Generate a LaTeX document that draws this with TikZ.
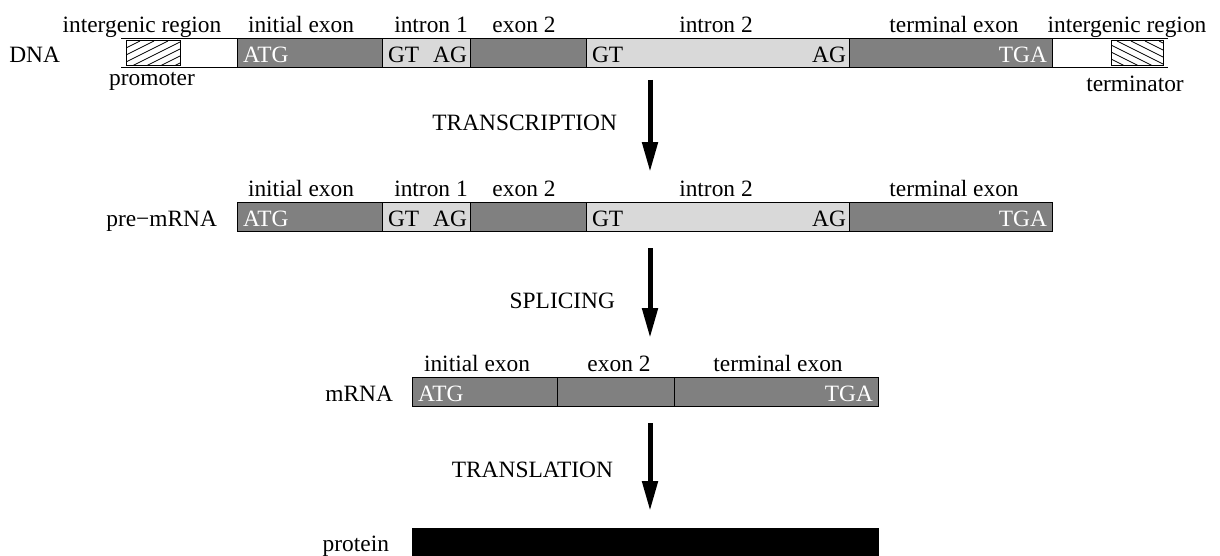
\documentclass[tikz,border=0pt]{standalone}
\usepackage{fontspec}
\setmainfont{Liberation Serif}
\usetikzlibrary{arrows.meta}
\definecolor{exdark}{HTML}{808080}
\definecolor{inlight}{HTML}{D9D9D9}
\begin{document}
\begin{tikzpicture}[x=0.5pt,y=-0.5pt,
  every node/.style={font=\fontsize{11.7pt}{14pt}\selectfont, inner sep=0pt, outer sep=0pt},
  seg/.style={draw, line width=0.5pt, minimum height=14.5pt, anchor=west},
  ex/.style={seg, fill=exdark},
  intr/.style={seg, fill=inlight},
  hatchbox/.style={draw, line width=0.5pt, minimum height=12.5pt, anchor=west},
  lab/.style={anchor=base},
  side/.style={anchor=base east},
  wtxt/.style={text=white},
  bigarrow/.style={line width=2.5pt, -{Triangle[length=15pt,width=7.5pt]}},
  thin/.style={line width=0.5pt},
  hatch/.style={line width=0.4pt}
]
\useasboundingbox (0,0) rectangle (1220,556);

% ---------------- DNA ----------------
\node[side] (lDNA) at (60,63) {DNA};
\node[ex, minimum width=72.5pt] (dA) at (237,53.5) {};
\node[intr, minimum width=44pt] (dB) at (382,53.5) {};
\node[ex, minimum width=58pt] (dC) at (470,53.5) {};
\node[intr, minimum width=131.5pt] (dD) at (586,53.5) {};
\node[ex, minimum width=101.5pt] (dE) at (849,53.5) {};
\coordinate (igLt) at (121,39);
\coordinate (igLb) at (121,68);
\coordinate (igRt) at (1168,39);
\coordinate (igRb) at (1168,68);
\draw[thin] (igLt) -- (dA.north west);
\draw[thin] (igLb) -- (dA.south west);
\draw[thin] (dE.north east) -- (igRt);
\draw[thin] (dE.south east) -- (igRb);

\node[hatchbox, minimum width=27pt] (prom) at (126,53.5) {};
\begin{scope}
  \clip (prom.south west) rectangle (prom.north east);
  \foreach \x in {76,90,...,190} \draw[hatch] (\x,66) -- ++(50,-25);
\end{scope}
\node[hatchbox, minimum width=26pt] (term) at (1111,53.5) {};
\begin{scope}
  \clip (term.south west) rectangle (term.north east);
  \foreach \x in {1061,1075,...,1175} \draw[hatch] (\x,41) -- ++(50,25);
\end{scope}

\node[wtxt, anchor=base west, xshift=3pt, yshift=2.5pt] (tA) at (dA.south west) {ATG};
\node[anchor=base west, xshift=3pt, yshift=2.5pt] (tB1) at (dB.south west) {GT};
\node[anchor=base east, xshift=-1.5pt, yshift=2.5pt] (tB2) at (dB.south east) {AG};
\node[anchor=base west, xshift=3pt, yshift=2.5pt] (tD1) at (dD.south west) {GT};
\node[anchor=base east, xshift=-1.5pt, yshift=2.5pt] (tD2) at (dD.south east) {AG};
\node[wtxt, anchor=base east, xshift=-2.5pt, yshift=2.5pt] (tE) at (dE.south east) {TGA};

\node[lab] (h1) at (142,33) {intergenic region};
\node[lab] (h2) at (301,33) {initial exon};
\node[lab] (h3) at (431,33) {intron 1};
\node[lab] (h4) at (524,33) {exon 2};
\node[lab] (h5) at (716,33) {intron 2};
\node[lab] (h6) at (954,33) {terminal exon};
\node[lab] (h7) at (1127,33) {intergenic region};
\node[lab] (pr) at (152,86) {promoter};
\node[lab] (tr) at (1135,92) {terminator};

% arrow 1
\coordinate (a1s) at (650,80);
\coordinate (a1e) at (650,172);
\draw[bigarrow] (a1s) -- (a1e);
\node[side] (lTr) at (617,131) {TRANSCRIPTION};

% ---------------- pre-mRNA ----------------
\node[side] (lPre) at (217,226) {pre−mRNA};
\node[ex, minimum width=72.5pt] (pA) at (237,216.5) {};
\node[intr, minimum width=44pt] (pB) at (382,216.5) {};
\node[ex, minimum width=58pt] (pC) at (470,216.5) {};
\node[intr, minimum width=131.5pt] (pD) at (586,216.5) {};
\node[ex, minimum width=101.5pt] (pE) at (849,216.5) {};
\node[wtxt, anchor=base west, xshift=3pt, yshift=2.5pt] (qA) at (pA.south west) {ATG};
\node[anchor=base west, xshift=3pt, yshift=2.5pt] (qB1) at (pB.south west) {GT};
\node[anchor=base east, xshift=-1.5pt, yshift=2.5pt] (qB2) at (pB.south east) {AG};
\node[anchor=base west, xshift=3pt, yshift=2.5pt] (qD1) at (pD.south west) {GT};
\node[anchor=base east, xshift=-1.5pt, yshift=2.5pt] (qD2) at (pD.south east) {AG};
\node[wtxt, anchor=base east, xshift=-2.5pt, yshift=2.5pt] (qE) at (pE.south east) {TGA};
\node[lab] (k2) at (301,196) {initial exon};
\node[lab] (k3) at (431,196) {intron 1};
\node[lab] (k4) at (524,196) {exon 2};
\node[lab] (k5) at (716,196) {intron 2};
\node[lab] (k6) at (954,196) {terminal exon};

% arrow 2
\coordinate (a2s) at (650,248);
\coordinate (a2e) at (650,338);
\draw[bigarrow] (a2s) -- (a2e);
\node[side] (lSp) at (615,308) {SPLICING};

% ---------------- mRNA ----------------
\node[side] (lM) at (393,401) {mRNA};
\node[ex, minimum width=72.5pt] (mA) at (412,391.5) {};
\node[ex, minimum width=58.5pt] (mC) at (557,391.5) {};
\node[ex, minimum width=102pt] (mE) at (674,391.5) {};
\node[wtxt, anchor=base west, xshift=3pt, yshift=2.5pt] (nA) at (mA.south west) {ATG};
\node[wtxt, anchor=base east, xshift=-2.5pt, yshift=2.5pt] (nE) at (mE.south east) {TGA};
\node[lab] (m2) at (477,371) {initial exon};
\node[lab] (m4) at (619,371) {exon 2};
\node[lab] (m6) at (778,371) {terminal exon};

% arrow 3
\coordinate (a3s) at (650,423);
\coordinate (a3e) at (650,511);
\draw[bigarrow] (a3s) -- (a3e);
\node[side] (lTl) at (613,477) {TRANSLATION};

% ---------------- protein ----------------
\node[side] (lP) at (389,551) {protein};
\node[seg, fill=black, minimum width=233pt, minimum height=14pt] (prot) at (412,542) {};

\end{tikzpicture}
\end{document}
